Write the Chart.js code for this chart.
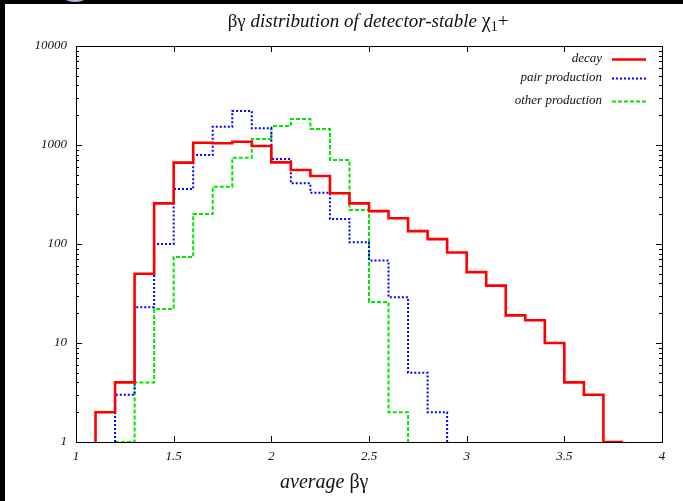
<!DOCTYPE html>
<html>
<head>
<meta charset="utf-8">
<script src="https://cdn.jsdelivr.net/npm/chart.js@4"></script>
<style>
  html, body { margin: 0; padding: 0; background: #fff; overflow: hidden; }
  #wrap { width: 683px; height: 501px; }
</style>
</head>
<body>
<div id="wrap"><canvas id="betaGammaChart" width="683" height="501"></canvas></div>
<script>
// ビンの下端 (幅 0.1)
const binLow = [1.1, 1.2, 1.3, 1.4, 1.5, 1.6, 1.7, 1.8, 1.9, 2.0,
                2.1, 2.2, 2.3, 2.4, 2.5, 2.6, 2.7, 2.8, 2.9, 3.0,
                3.1, 3.2, 3.3, 3.4, 3.5, 3.6, 3.7];
const binWidth = 0.1;

const decayCounts = [2, 4, 50, 257, 663, 1052, 1040, 1080, 977, 668,
                     559, 486, 325, 257, 215, 182, 135, 112, 82, 52,
                     38, 19, 17, 10, 4, 3, 1];
const pairCounts = [null, 3, 23, 100, 360, 792, 1530, 2205, 1474, 722,
                    410, 330, 179, 104, 68, 29, 5, 2, null, null,
                    null, null, null, null, null, null, null];
const otherCounts = [null, 1, 4, 22, 74, 201, 379, 745, 1150, 1556,
                     1832, 1452, 705, 220, 26, 2, null, null, null, null,
                     null, null, null, null, null, null, null];

const xTicks = [1, 1.5, 2, 2.5, 3, 3.5, 4];
const yTicks = [1, 10, 100, 1000, 10000];

const serif = '"Liberation Serif", "DejaVu Serif", serif';

// histeps 風の点列を作る
function histSteps(values) {
    const idx = values.map((v, i) => v == null ? -1 : i).filter(i => i >= 0);
    const i0 = idx[0], i1 = idx[idx.length - 1];
    const end = Math.round((binLow[i1] + binWidth) * 10) / 10;
    const pts = [{ x: binLow[i0], y: 1 }];
    for (let i = i0; i <= i1; i++) pts.push({ x: binLow[i], y: values[i] });
    pts.push({ x: end, y: values[i1] });
    pts.push({ x: end, y: 1 });
    return pts;
}

const seriesInfo = [
    { label: 'decay', data: decayCounts, color: '#ff0000', width: 2.6, dash: [] },
    { label: 'pair production', data: pairCounts, color: '#0000ff', width: 2, dash: [2, 2] },
    { label: 'other production', data: otherCounts, color: '#00e600', width: 2, dash: [4, 2] }
];

const framePlugin = {
    id: 'framePlugin',
    beforeDraw(chart) {
        const ctx = chart.ctx;
        ctx.save();
        ctx.fillStyle = '#fff';
        ctx.fillRect(0, 0, chart.width, chart.height);
        ctx.fillStyle = '#000';
        ctx.fillRect(0, 0, chart.width, 4);
        ctx.fillRect(0, 0, 5, chart.height);
        // 左上の青い影
        ctx.fillStyle = '#b8b8f0';
        ctx.beginPath();
        ctx.ellipse(75, -4, 12, 6, 0, 0, Math.PI * 2);
        ctx.fill();
        ctx.restore();
    },
    beforeDatasetsDraw(chart) {
        const ctx = chart.ctx;
        const a = chart.chartArea;
        const xs = chart.scales.x, ys = chart.scales.y;
        ctx.save();
        ctx.strokeStyle = '#000';
        ctx.lineWidth = 1;
        ctx.strokeRect(a.left + 0.5, a.top + 0.5, a.right - a.left, a.bottom - a.top);
        ctx.beginPath();
        // x の目盛り (上下とも内向き)
        xTicks.forEach(v => {
            const px = Math.round(xs.getPixelForValue(v)) + 0.5;
            ctx.moveTo(px, a.bottom); ctx.lineTo(px, a.bottom - 6);
            ctx.moveTo(px, a.top); ctx.lineTo(px, a.top + 6);
        });
        // y の主目盛りと副目盛り
        for (let d = 1; d <= 10000; d *= 10) {
            for (let m = 1; m <= 9; m++) {
                const v = d * m;
                if (v > 10000) break;
                const py = Math.round(ys.getPixelForValue(v)) + 0.5;
                const len = m === 1 ? 6 : 3;
                ctx.moveTo(a.left, py); ctx.lineTo(a.left + len, py);
                ctx.moveTo(a.right, py); ctx.lineTo(a.right - len, py);
            }
        }
        ctx.stroke();
        ctx.restore();
    },
    afterDraw(chart) {
        const ctx = chart.ctx;
        ctx.save();
        ctx.fillStyle = '#111';
        ctx.textBaseline = 'middle';

        // タイトル
        const parts = [
            { t: 'βγ', f: '19px ' + serif, dy: 0 },
            { t: ' distribution of detector-stable ', f: 'italic 19px ' + serif, dy: 0 },
            { t: 'χ', f: '20px ' + serif, dy: 0 },
            { t: '1', f: '14px ' + serif, dy: 5 },
            { t: '+', f: '19px ' + serif, dy: 0 }
        ];
        let total = 0;
        parts.forEach(p => { ctx.font = p.f; p.w = ctx.measureText(p.t).width; total += p.w; });
        let x = 368 - total / 2;
        ctx.textAlign = 'left';
        parts.forEach(p => { ctx.font = p.f; ctx.fillText(p.t, x, 22 + p.dy); x += p.w; });

        // x 軸タイトル
        const xParts = [
            { t: 'average ', f: 'italic 20px ' + serif },
            { t: 'βγ', f: '20px ' + serif }
        ];
        x = 280;
        xParts.forEach(p => { ctx.font = p.f; ctx.fillText(p.t, x, 483); x += ctx.measureText(p.t).width; });

        // 凡例
        const rows = [59, 78, 101];
        ctx.textAlign = 'right';
        ctx.font = 'italic 13px ' + serif;
        seriesInfo.forEach((s, i) => {
            ctx.fillStyle = '#111';
            ctx.fillText(s.label, 602, rows[i]);
            ctx.strokeStyle = s.color;
            ctx.lineWidth = s.width;
            ctx.setLineDash(s.dash);
            ctx.beginPath();
            ctx.moveTo(612, rows[i] + 0.5);
            ctx.lineTo(646, rows[i] + 0.5);
            ctx.stroke();
        });
        ctx.restore();
    }
};

new Chart(document.getElementById('betaGammaChart').getContext('2d'), {
    type: 'line',
    data: {
        datasets: seriesInfo.map(s => ({
            label: s.label,
            data: histSteps(s.data),
            borderColor: s.color,
            borderWidth: s.width,
            borderDash: s.dash,
            stepped: 'before', // 横→縦の順に描く
            pointRadius: 0,
            fill: false,
            tension: 0
        }))
    },
    options: {
        responsive: false,
        animation: false,
        devicePixelRatio: 1,
        layout: { padding: { left: 0, top: 46, right: 21, bottom: 0 } },
        scales: {
            x: {
                type: 'linear',
                min: 1,
                max: 4,
                afterBuildTicks: scale => { scale.ticks = xTicks.map(v => ({ value: v })); },
                afterFit: scale => { scale.height = 59; },
                grid: { display: false, drawTicks: false },
                border: { display: false },
                ticks: {
                    padding: 7,
                    color: '#111',
                    font: { family: serif, style: 'italic', size: 13 },
                    callback: v => String(v)
                }
            },
            y: {
                type: 'logarithmic',
                min: 1,
                max: 10000,
                afterBuildTicks: scale => { scale.ticks = yTicks.map(v => ({ value: v })); },
                afterFit: scale => { scale.width = 76; },
                grid: { display: false, drawTicks: false },
                border: { display: false },
                ticks: {
                    padding: 9,
                    color: '#111',
                    font: { family: serif, style: 'italic', size: 13 },
                    callback: v => String(v)
                }
            }
        },
        plugins: {
            legend: { display: false },
            tooltip: { enabled: false },
            title: { display: false }
        }
    },
    plugins: [framePlugin]
});
</script>
</body>
</html>
